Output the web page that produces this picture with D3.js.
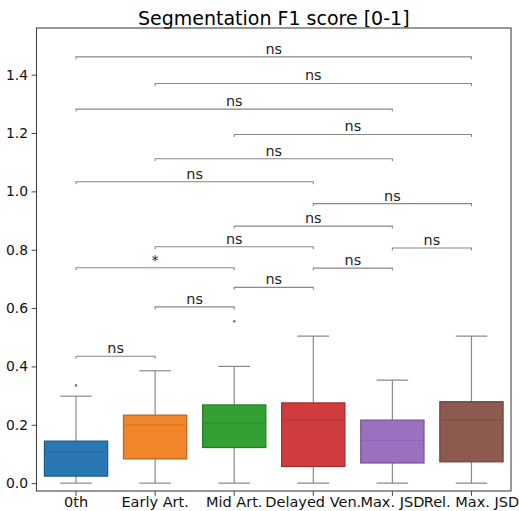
<!DOCTYPE html>
<html><head><meta charset="utf-8">
<script src="https://cdn.jsdelivr.net/npm/d3@7"></script>
<style>body{margin:0;background:#fff}svg{display:block}text{font-family:"DejaVu Sans",sans-serif}</style>
</head><body><svg id="c" width="519" height="511"></svg>
<script>
const categories = ["0th","Early Art.","Mid Art.","Delayed Ven.","Max. JSD","Rel. Max. JSD"];
const q1 =          [0.024, 0.083, 0.122, 0.057, 0.069, 0.073];
const medians =     [0.107, 0.200, 0.205, 0.215, 0.147, 0.215];
const q3 =          [0.144, 0.233, 0.268, 0.275, 0.216, 0.279];
const whiskerLow =  [0.000, 0.000, 0.000, 0.000, 0.000, 0.000];
const whiskerHigh = [0.298, 0.385, 0.400, 0.504, 0.353, 0.504];
const outlierCats = ["0th","Mid Art."];
const outlierVals = [0.335, 0.555];
const colors = ["#2a78b3","#f0852a","#34a034","#d03c3d","#9a70c0","#8c5a4e"];
const yTicks = [0.0,0.2,0.4,0.6,0.8,1.0,1.2,1.4];
// pairwise annotations
const pairA =   ["0th","Early Art.","0th","Mid Art.","Early Art.","0th","Delayed Ven.","Mid Art.","Early Art.","Max. JSD","0th","Delayed Ven.","Mid Art.","Early Art.","0th"];
const pairB =   ["Rel. Max. JSD","Rel. Max. JSD","Max. JSD","Rel. Max. JSD","Max. JSD","Delayed Ven.","Rel. Max. JSD","Max. JSD","Delayed Ven.","Rel. Max. JSD","Mid Art.","Max. JSD","Delayed Ven.","Mid Art.","Early Art."];
const pairY =   [1.461, 1.370, 1.282, 1.195, 1.112, 1.033, 0.958, 0.881, 0.810, 0.806, 0.738, 0.737, 0.671, 0.604, 0.435];
const pairLab = ["ns","ns","ns","ns","ns","ns","ns","ns","ns","ns","*","ns","ns","ns","ns"];

const svg = d3.select("#c");
const L=36.5, R=511, T=28, B=491;
const x = d3.scaleBand().domain(categories).range([L,R]).padding(0);
const y = d3.scaleLinear().domain([-0.027,1.56]).range([B,T]);
const bw = x.bandwidth()*0.8;
const cx = c => x(c)+x.bandwidth()/2;
const gray = "#8a8a8a";

svg.append("text").attr("x",(L+R)/2).attr("y",25).attr("text-anchor","middle")
  .style("font-size","19px").attr("fill","#000").text("Segmentation F1 score [0-1]");

const g = svg.append("g");
categories.forEach((c,i)=>{
  const xc = cx(c);
  g.append("line").attr("x1",xc).attr("x2",xc).attr("y1",y(q3[i])).attr("y2",y(whiskerHigh[i])).attr("stroke",gray).attr("stroke-width",1.2);
  g.append("line").attr("x1",xc).attr("x2",xc).attr("y1",y(q1[i])).attr("y2",y(whiskerLow[i])).attr("stroke",gray).attr("stroke-width",1.2);
  [whiskerHigh[i],whiskerLow[i]].forEach(v=>{
    g.append("line").attr("x1",xc-bw/4).attr("x2",xc+bw/4).attr("y1",y(v)).attr("y2",y(v)).attr("stroke",gray).attr("stroke-width",1.2);
  });
  const col = d3.color(colors[i]);
  g.append("rect").attr("x",xc-bw/2).attr("width",bw).attr("y",y(q3[i])).attr("height",y(q1[i])-y(q3[i]))
    .attr("fill",colors[i]).attr("stroke",col.darker(0.8)).attr("stroke-width",1.2);
  g.append("line").attr("x1",xc-bw/2).attr("x2",xc+bw/2).attr("y1",y(medians[i])).attr("y2",y(medians[i]))
    .attr("stroke",col.darker(0.3)).attr("stroke-width",1.2);
});
outlierCats.forEach((c,i)=>{
  g.append("circle").attr("cx",cx(c)).attr("cy",y(outlierVals[i])).attr("r",1.3).attr("fill","#777");
});

// annotations
const h = 2.5;
pairA.forEach((a,i)=>{
  const x1=cx(a), x2=cx(pairB[i]), yy=y(pairY[i]);
  svg.append("path").attr("d",`M${x1},${yy+h}V${yy}H${x2}V${yy+h}`).attr("fill","none").attr("stroke","#888").attr("stroke-width",1.1);
  svg.append("text").attr("x",(x1+x2)/2).attr("y",yy-3).attr("text-anchor","middle")
    .style("font-size","14.4px").attr("fill","#222").text(pairLab[i]);
});

// axes
const ya = svg.append("g").attr("transform",`translate(${L},0)`).call(d3.axisLeft(y).tickValues(yTicks).tickFormat(d3.format(".1f")).tickSize(4.9).tickPadding(3.5));
const xa = svg.append("g").attr("transform",`translate(0,${B})`).call(d3.axisBottom(x).tickSize(4.9).tickPadding(1));
[ya,xa].forEach(a=>{a.select(".domain").remove(); a.selectAll("text").attr("fill","#111").style("font-family","DejaVu Sans"); a.selectAll("line").attr("stroke","#444");});
ya.selectAll("text").style("font-size","13.9px");
xa.selectAll("text").style("font-size","14.5px");
svg.append("rect").attr("x",L).attr("y",T).attr("width",R-L).attr("height",B-T).attr("fill","none").attr("stroke","#444").attr("stroke-width",1.1);
</script></body></html>
